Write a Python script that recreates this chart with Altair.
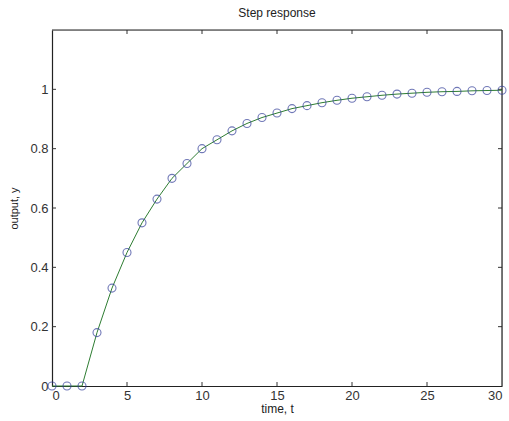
import altair as alt
import pandas as pd

t_vals = list(range(0, 31))
y_vals = [0, 0, 0, 0.18, 0.33, 0.45, 0.55, 0.63, 0.70, 0.75, 0.80, 0.83, 0.86,
          0.885, 0.905, 0.92, 0.935, 0.945, 0.955, 0.963, 0.97, 0.975, 0.98,
          0.984, 0.987, 0.99, 0.992, 0.993, 0.995, 0.996, 0.997]
x_ticks = [0, 5, 10, 15, 20, 25, 30]
y_ticks = [0, 0.2, 0.4, 0.6, 0.8, 1.0]

W, H = 450, 356
FONT = "Liberation Sans"
FRAME = "#222"

df = pd.DataFrame({"t": t_vals, "y": y_vals})
xt = pd.DataFrame({"v": x_ticks})
yt = pd.DataFrame({"v": y_ticks})

xs = alt.Scale(domain=[0, 30], nice=False, zero=False)
ys = alt.Scale(domain=[0, 1.2], nice=False, zero=False)

xaxis = alt.Axis(values=x_ticks, title="time, t", grid=False, ticks=False,
                 domain=True, domainColor=FRAME, domainWidth=1.2, format="~g",
                 labelFont=FONT, labelFontSize=13, labelColor="#333",
                 titleFont=FONT, titleFontSize=12, titleFontWeight="normal",
                 titleColor="#222", labelPadding=3, titlePadding=1)
yaxis = alt.Axis(values=y_ticks, title="output, y", grid=False, ticks=False,
                 domain=True, domainColor=FRAME, domainWidth=1.2, format="~g",
                 labelFont=FONT, labelFontSize=13, labelColor="#333",
                 titleFont=FONT, titleFontSize=11, titleFontWeight="normal",
                 titleColor="#222", labelPadding=4, titlePadding=10)

line = alt.Chart(df).mark_line(color="#2e7d32", strokeWidth=1).encode(
    x=alt.X("t:Q", scale=xs, axis=xaxis),
    y=alt.Y("y:Q", scale=ys, axis=yaxis),
)
pts = alt.Chart(df).mark_point(shape="circle", filled=False, color="#35409a",
                               size=64, strokeWidth=1.1).encode(
    x=alt.X("t:Q", scale=xs), y=alt.Y("y:Q", scale=ys))

inner_x = xt[(xt.v > 0) & (xt.v < 30)]
inner_y = yt[(yt.v > 0)]
tb = alt.Chart(inner_x).mark_rule(color="#333").encode(
    x=alt.X("v:Q", scale=xs), y=alt.value(H), y2=alt.value(H - 4))
tt = alt.Chart(inner_x).mark_rule(color="#333").encode(
    x=alt.X("v:Q", scale=xs), y=alt.value(0), y2=alt.value(4))
tl = alt.Chart(inner_y).mark_rule(color="#333").encode(
    y=alt.Y("v:Q", scale=ys), x=alt.value(0), x2=alt.value(4))
tr = alt.Chart(inner_y).mark_rule(color="#333").encode(
    y=alt.Y("v:Q", scale=ys), x=alt.value(W), x2=alt.value(W - 4))
top_edge = alt.Chart(xt.head(1)).mark_rule(color=FRAME, strokeWidth=1.2).encode(
    x=alt.value(0), x2=alt.value(W), y=alt.value(0))
right_edge = alt.Chart(xt.head(1)).mark_rule(color=FRAME, strokeWidth=1.2).encode(
    y=alt.value(0), y2=alt.value(H), x=alt.value(W))

chart = alt.layer(tb, tt, tl, tr, top_edge, right_edge, line, pts).properties(
    width=W, height=H,
    title=alt.TitleParams("Step response", font=FONT, fontSize=12,
                          fontWeight="normal", color="#222", offset=9),
    autosize=alt.AutoSizeParams(type="none"),
    padding={"left": 52, "top": 30, "right": 7, "bottom": 35},
).configure_view(stroke=None).configure(background="white")

chart.save("out.html", embed_options={"renderer": "svg", "actions": False})
